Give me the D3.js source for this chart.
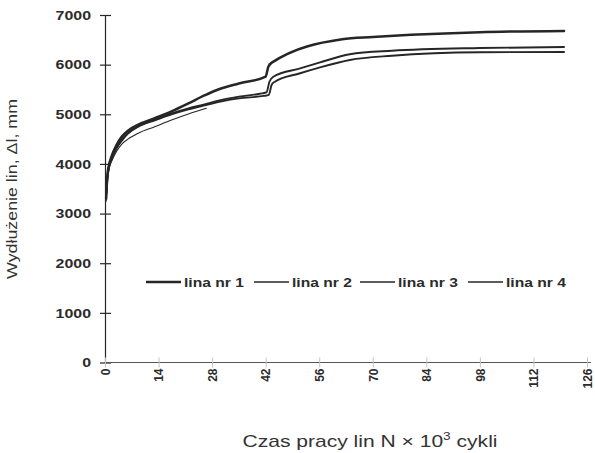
<!DOCTYPE html>
<html>
<head>
<meta charset="utf-8">
<script src="https://cdn.jsdelivr.net/npm/d3@7"></script>
<style>
  body { margin: 0; background: #fff; }
  svg { display: block; font-family: "Liberation Sans", Arial, sans-serif; }
</style>
</head>
<body>
<div id="chart"></div>
<script>
// ticks
var xTicks = [0, 14, 28, 42, 56, 70, 84, 98, 112, 126];
var yTicks = [0, 1000, 2000, 3000, 4000, 5000, 6000, 7000];

var seriesNames = ['lina nr 1', 'lina nr 2', 'lina nr 3', 'lina nr 4'];

// [N x 10^3 cykli, wydluzenie mm]
var lina1 = [[0.3, 3300], [0.6, 3750], [1.0, 3960], [1.7, 4150], [3, 4380], [4.4, 4550], [6, 4670],
  [8.7, 4790], [13, 4920], [17.4, 5060], [21.8, 5220], [26, 5380], [29.6, 5500], [35, 5620],
  [42, 5760], [42.7, 5960], [43.6, 6040], [62, 6510], [70, 6555], [80, 6600],
  [98, 6655], [120, 6680]];
var lina2 = [[0.3, 3400], [0.7, 3800], [1.0, 3950], [1.7, 4110], [3, 4330], [4.4, 4490], [6, 4620],
  [8.7, 4760], [13, 4890], [17.4, 5020], [21.8, 5120], [26, 5200], [30.5, 5290], [35, 5355],
  [41, 5420], [42.2, 5440], [43, 5660], [44, 5757], [51, 5925], [56, 6040], [64, 6210],
  [75, 6280], [98, 6335], [120, 6355]];
var lina3 = [[0.3, 3250], [0.6, 3650], [1.0, 3870], [2, 4100], [3, 4250], [4.4, 4400], [6, 4500],
  [8.7, 4620], [13, 4750], [17.4, 4885], [21.8, 5006], [26.5, 5120]];
var lina4 = [[0.3, 3350], [0.7, 3750], [1.0, 3920], [1.7, 4080], [3, 4310], [4.4, 4470], [6, 4610],
  [8.7, 4750], [13, 4880], [17.4, 5000], [21.8, 5100], [26, 5180], [30.5, 5260], [35, 5320],
  [41.5, 5370], [42.8, 5390], [43.6, 5600], [44.4, 5657], [51, 5826], [56, 5940], [64, 6094],
  [75, 6180], [98, 6250], [120, 6255]];

var series = [lina1, lina2, lina3, lina4];
var widths = [2.5, 1.9, 1.1, 1.9];

var W = 595, H = 453;
var ink = '#262626';

var svg = d3.select('#chart').append('svg')
  .attr('width', W)
  .attr('height', H);

svg.append('rect').attr('width', W).attr('height', H).attr('fill', '#fff');

var x = d3.scaleLinear().domain([0, 126]).range([105, 587]);
var y = d3.scaleLinear().domain([0, 7000]).range([362.5, 15]);

// the scan font is wider than Arial, so stretch text a bit
function stretch(sel, k) {
  sel.each(function () {
    var len = this.getComputedTextLength();
    d3.select(this)
      .attr('textLength', len * k)
      .attr('lengthAdjust', 'spacingAndGlyphs');
  });
}

// y axis
var gy = svg.append('g')
  .attr('transform', 'translate(' + x(0) + ',0)')
  .call(d3.axisLeft(y).tickValues(yTicks).tickSize(0).tickPadding(14).tickFormat(d3.format('d')));
gy.select('.domain').attr('stroke', ink).attr('stroke-width', 1.2);
gy.selectAll('.tick line').attr('x1', -5).attr('x2', 6).attr('stroke', ink).attr('stroke-width', 1.2);
gy.selectAll('.tick text')
  .attr('fill', '#2b2b2b')
  .style('font-size', '13.5px')
  .style('font-weight', 'bold')
  .call(stretch, 1.18);

// x axis
var gx = svg.append('g')
  .attr('transform', 'translate(0,' + y(0) + ')')
  .call(d3.axisBottom(x).tickValues(xTicks).tickSize(0).tickSizeOuter(0).tickPadding(0));
gx.select('.domain').attr('stroke', '#555').attr('stroke-width', 1.1)
  .attr('d', 'M' + x(0) + ',0H' + (x(126) + 4));
gx.selectAll('.tick line').attr('y1', -5).attr('y2', 5).attr('stroke', '#c4c4c4');
gx.selectAll('.tick text')
  .attr('fill', '#2b2b2b')
  .attr('transform', 'rotate(-90)')
  .attr('text-anchor', 'end')
  .attr('x', -6)
  .attr('y', 0)
  .attr('dy', '0.36em')
  .style('font-size', '12px')
  .style('font-weight', 'bold');

// curves
var line = d3.line()
  .x(function (d) { return x(d[0]); })
  .y(function (d) { return y(d[1]); })
  .curve(d3.curveMonotoneX);

svg.append('g').selectAll('path')
  .data(series)
  .enter().append('path')
  .attr('d', line)
  .attr('fill', 'none')
  .attr('stroke', ink)
  .attr('stroke-width', function (d, i) { return widths[i]; })
  .attr('stroke-linejoin', 'round')
  .attr('stroke-linecap', 'round');

// legend
var legendX = [146, 254, 360, 468];
var legendY = 282;
var lg = svg.append('g').selectAll('g')
  .data(seriesNames)
  .enter().append('g')
  .attr('transform', function (d, i) { return 'translate(' + legendX[i] + ',' + legendY + ')'; });
lg.append('line')
  .attr('x1', 0).attr('x2', 35)
  .attr('stroke', ink)
  .attr('stroke-width', function (d, i) { return i === 0 ? 2.3 : 1.7; });
lg.append('text')
  .attr('x', 38)
  .attr('dy', '0.36em')
  .attr('fill', '#2b2b2b')
  .style('font-size', '13px')
  .style('font-weight', 'bold')
  .text(function (d) { return d; })
  .call(stretch, 1.2);

// axis titles
var yTitle = svg.append('text')
  .attr('transform', 'translate(17,189) rotate(-90)')
  .attr('text-anchor', 'middle')
  .attr('fill', '#333')
  .style('font-size', '15.5px')
  .text('Wydłużenie lin, Δl, mm');
yTitle.attr('textLength', 180).attr('lengthAdjust', 'spacingAndGlyphs');

var xTitle = svg.append('text')
  .attr('x', 370)
  .attr('y', 447)
  .attr('text-anchor', 'middle')
  .attr('fill', '#333')
  .style('font-size', '17px');
xTitle.append('tspan').text('Czas pracy lin N × 10');
xTitle.append('tspan').attr('dy', -7).style('font-size', '11px').text('3');
xTitle.append('tspan').attr('dy', 7).text(' cykli');
xTitle.attr('textLength', 255).attr('lengthAdjust', 'spacingAndGlyphs');
</script>
</body>
</html>
